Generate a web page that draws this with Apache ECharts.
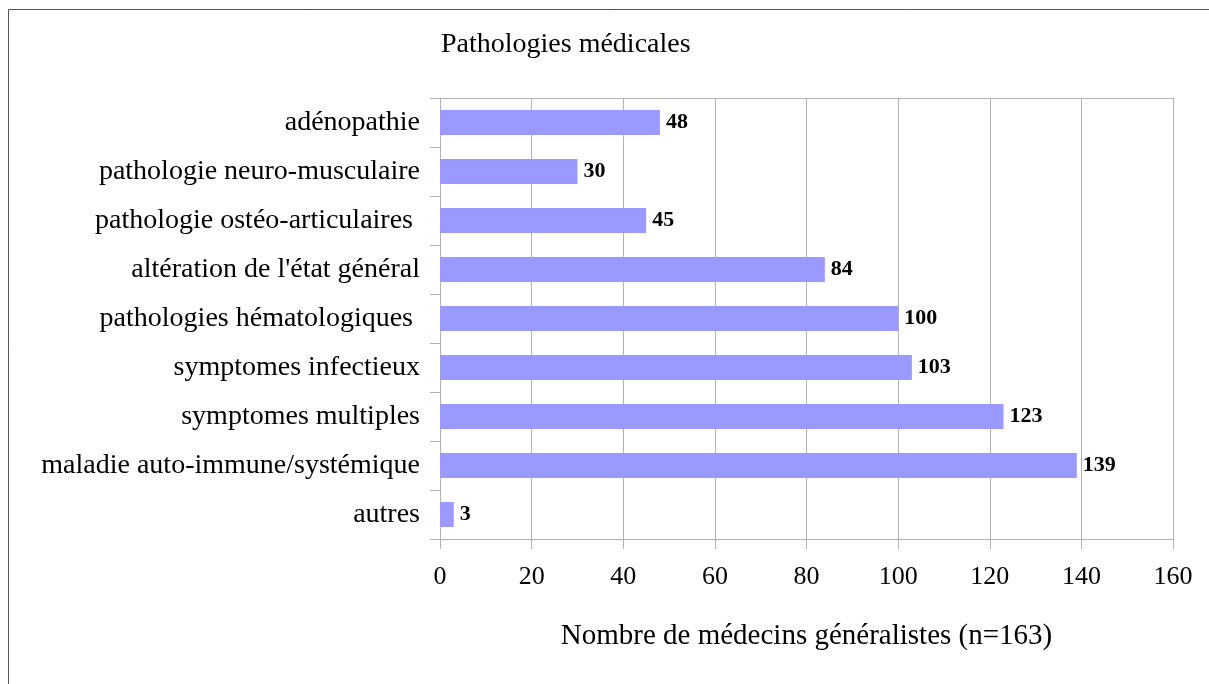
<!DOCTYPE html>
<html>
<head>
<meta charset="utf-8">
<script src="https://cdn.jsdelivr.net/npm/echarts@6/dist/echarts.min.js"></script>
<style>
    html, body { margin: 0; padding: 0; background: #fff; }
    #chart { width: 1209px; height: 684px; }
</style>
</head>
<body>
<div id="chart"></div>
<script>
    var categories = [
        'autres',
        'maladie auto-immune/systémique',
        'symptomes multiples',
        'symptomes infectieux',
        'pathologies hématologiques ',
        'altération de l\'état général',
        'pathologie ostéo-articulaires ',
        'pathologie neuro-musculaire',
        'adénopathie'
    ];
    var counts = [3, 139, 123, 103, 100, 84, 45, 30, 48];

    var serif = '"Liberation Serif", "DejaVu Serif", serif';
    var gridColor = '#b3b3b3';

    var myChart = echarts.init(document.getElementById('chart'));
    var option = {
        backgroundColor: '#fff',
        animation: false,
        textStyle: { fontFamily: serif },
        graphic: [{
            type: 'rect',
            shape: { x: 8.5, y: 9.5, width: 1210, height: 690 },
            style: { fill: 'none', stroke: '#555', lineWidth: 1 }
        }, {
            // top border of the plot area
            type: 'line',
            shape: { x1: 430, y1: 98.5, x2: 1173, y2: 98.5 },
            style: { stroke: gridColor, lineWidth: 1 }
        }],
        title: {
            text: 'Pathologies médicales',
            left: 436,
            top: 26,
            textStyle: { fontFamily: serif, fontSize: 28, fontWeight: 'normal', color: '#000' }
        },
        grid: { left: 440, right: 36, top: 98, bottom: 145, containLabel: false },
        xAxis: {
            type: 'value',
            min: 0,
            max: 160,
            interval: 20,
            name: 'Nombre de médecins généralistes (n=163)',
            nameLocation: 'middle',
            nameGap: 83,
            nameTextStyle: { fontFamily: serif, fontSize: 29, color: '#000' },
            axisLine: { show: true, lineStyle: { color: gridColor } },
            axisTick: { show: true, length: 10, lineStyle: { color: gridColor } },
            axisLabel: { fontFamily: serif, fontSize: 26, color: '#000', margin: 25 },
            splitLine: { show: true, lineStyle: { color: gridColor } }
        },
        yAxis: {
            type: 'category',
            data: categories,
            axisLine: { show: true, lineStyle: { color: gridColor } },
            axisTick: { show: true, length: 10, lineStyle: { color: gridColor } },
            axisLabel: { fontFamily: serif, fontSize: 28, color: '#000', margin: 20 },
            splitLine: { show: false }
        },
        series: [{
            type: 'bar',
            data: counts,
            barWidth: '51%',
            itemStyle: { color: '#9999ff' },
            label: {
                show: true,
                position: 'right',
                distance: 6,
                fontFamily: serif,
                fontSize: 22,
                fontWeight: 'bold',
                color: '#000'
            }
        }]
    };
    myChart.setOption(option);
</script>
</body>
</html>
